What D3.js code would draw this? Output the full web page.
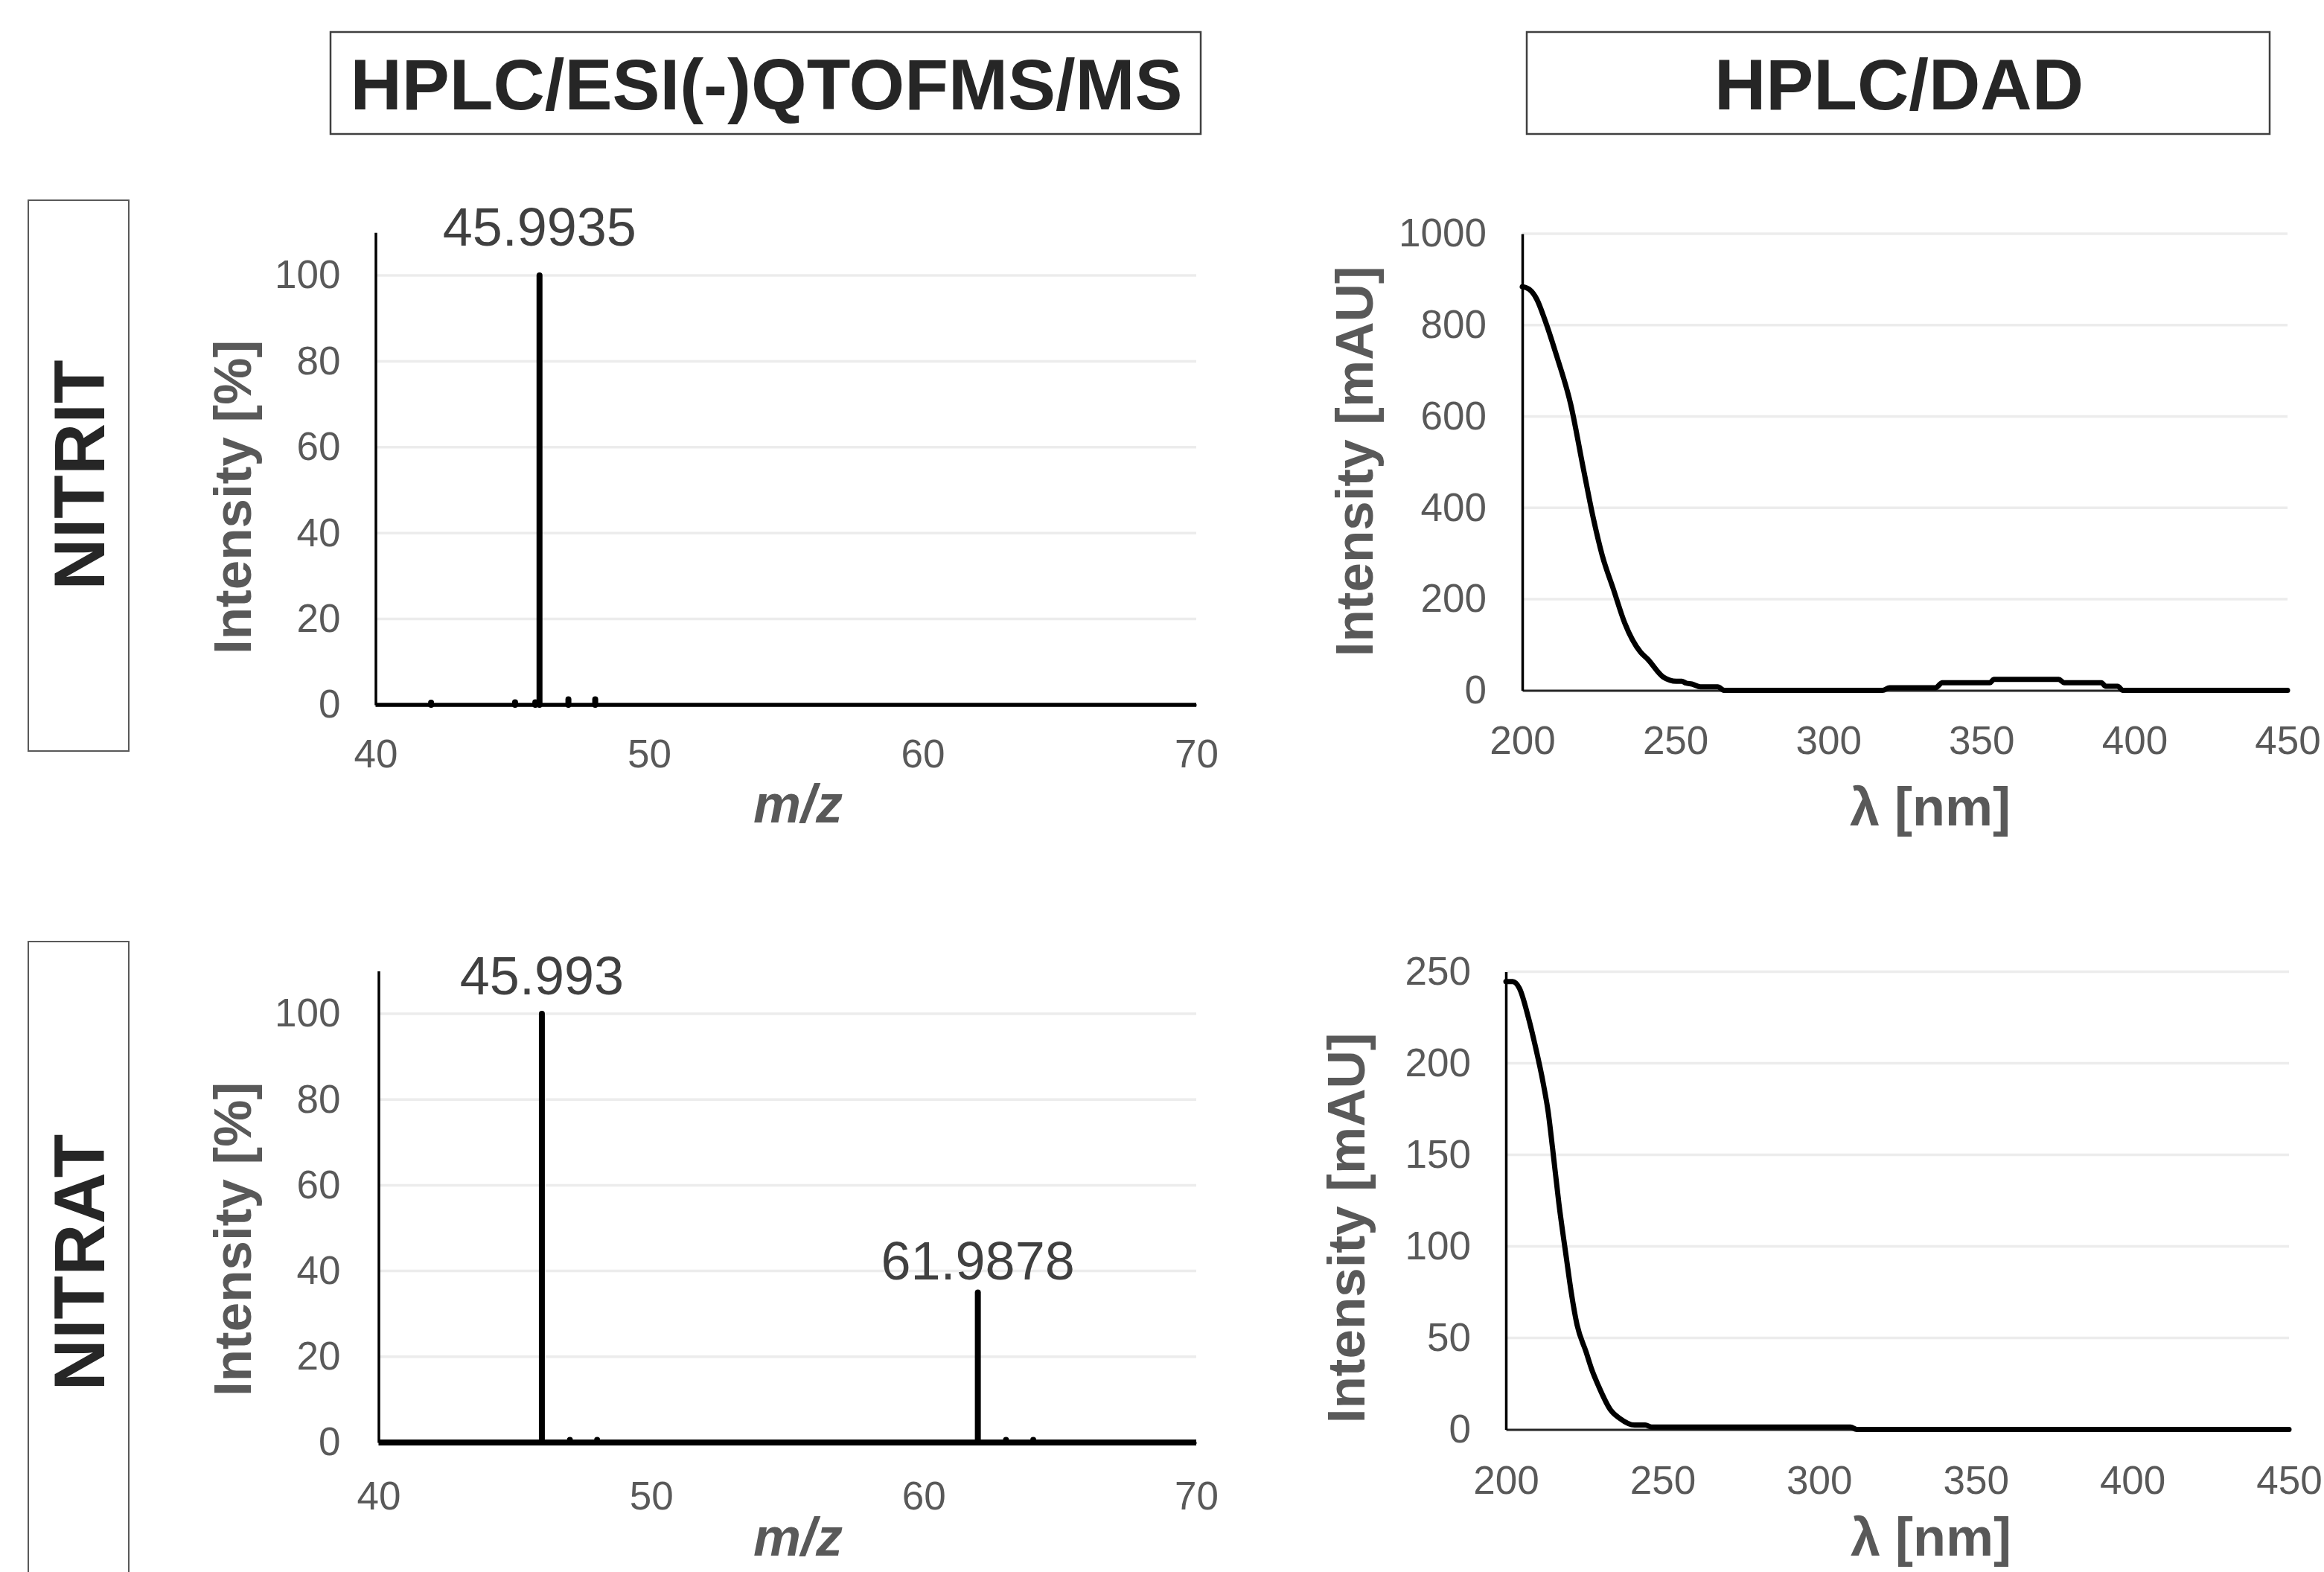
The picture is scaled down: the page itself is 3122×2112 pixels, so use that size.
<!DOCTYPE html>
<html>
<head>
<meta charset="utf-8">
<script src="https://cdn.jsdelivr.net/npm/d3@7"></script>
<style>
  html, body { margin: 0; padding: 0; background: #fff; }
</style>
</head>
<body>
<svg id="fig" width="3122" height="2112"></svg>
<script>
// ---- Column and row headings ----
const columnTitles = ["HPLC/ESI(-)QTOFMS/MS", "HPLC/DAD"];
const rowTitles = ["NITRIT", "NITRAT"];

// ---- Mass spectra (m/z, relative intensity %) ----
const mzTicks = [40, 50, 60, 70];
const percentTicks = [0, 20, 40, 60, 80, 100];

const nitritMz        = [42.03, 45.10, 45.84, 45.9935, 47.05, 48.03];
const nitritIntensity = [0.5,   0.6,   0.6,   100,     1.3,   1.3];

const nitratMz        = [45.993, 47.02, 48.02, 61.9878, 63.02, 64.02];
const nitratIntensity = [100,    0.6,   0.6,   35,      0.6,   0.6];

// ---- UV spectra from the diode array detector (nm, mAU) ----
const wavelengthTicks = [200, 250, 300, 350, 400, 450];
const nitritAbsTicks = [0, 200, 400, 600, 800, 1000];
const nitratAbsTicks = [0, 50, 100, 150, 200, 250];

const nitritWavelength = [200, 202.3, 204.7, 207.4, 211.2, 215.8, 220.0, 223.3, 226.1, 229.8,
                          233.5, 238.6, 240.9, 246.1, 250.3, 252.1, 253.5, 255.4, 258.2, 263.8,
                          266.1, 317.7, 320.0, 335.0, 337.2, 352.8, 354.0, 375.3, 377.0, 389.2,
                          390.6, 394.5, 396.2, 450];
const nitritAbsorbance = [884, 878, 857, 811, 733, 627, 484, 374, 296, 221,
                          147, 84, 69, 29, 20, 20, 16, 14, 8, 8,
                          0, 0, 6, 6, 17, 17, 24, 24, 17, 17,
                          9, 9, 0, 0];

const nitratWavelength = [200, 202.1, 204.3, 207.2, 209.1, 212.0, 213.5, 214.9, 216.9, 219.3,
                          220.8, 222.7, 225.6, 227.5, 229.5, 233.4, 236.3, 241.1, 244.5, 246.5,
                          310.0, 312.0, 450];
const nitratAbsorbance = [244.6, 244.6, 241, 224.8, 211.5, 188.3, 173.4, 153.5, 123.6, 93.7,
                          75.5, 57.2, 42.3, 32.3, 24, 10.7, 6.1, 2.4, 2.4, 1.3,
                          1.3, 0, 0];

// ---- drawing ----
const FONT = '"Liberation Sans", Arial, Helvetica, sans-serif';
const TICK_COLOR = "#595959";
const svg = d3.select("#fig");
svg.append("rect").attr("width", 3122).attr("height", 2112).attr("fill", "#fff");

// heading boxes across the top
const headBoxes = [
  { x: 444, y: 43, w: 1169, h: 137 },
  { x: 2051, y: 43, w: 998, h: 137 }
];
headBoxes.forEach((b, i) => {
  svg.append("rect").attr("x", b.x).attr("y", b.y).attr("width", b.w).attr("height", b.h)
    .attr("fill", "#fff").attr("stroke", "#404040").attr("stroke-width", 2.5);
  svg.append("text").attr("x", b.x + b.w / 2 + 1).attr("y", 147)
    .attr("text-anchor", "middle").attr("font-family", FONT).attr("font-weight", "bold")
    .attr("font-size", 96).attr("fill", "#262626").text(columnTitles[i]);
});

// row label boxes on the left
const rowBoxes = [
  { y: 269, h: 740, cy: 638 },
  { y: 1265, h: 900, cy: 1696 }
];
rowBoxes.forEach((b, i) => {
  svg.append("rect").attr("x", 38).attr("y", b.y).attr("width", 135).attr("height", b.h)
    .attr("fill", "#fff").attr("stroke", "#595959").attr("stroke-width", 2);
  svg.append("text").attr("transform", `translate(140,${b.cy}) rotate(-90)`)
    .attr("text-anchor", "middle").attr("font-family", FONT).attr("font-weight", "bold")
    .attr("font-size", 96).attr("fill", "#262626").text(rowTitles[i]);
});

function drawFrame(p) {
  const x = d3.scaleLinear().domain(p.xDomain).range([p.left, p.right]);
  const y = d3.scaleLinear().domain(p.yDomain).range([p.bottom, p.top]);
  const g = svg.append("g");
  const fmt = d3.format("d");

  // horizontal gridlines
  g.append("g").selectAll("line").data(p.yTicks.filter(v => v > 0)).join("line")
    .attr("x1", p.left).attr("x2", p.right)
    .attr("y1", d => y(d)).attr("y2", d => y(d))
    .attr("stroke", "#ececec").attr("stroke-width", 3.5);

  // x axis
  const gx = g.append("g").attr("transform", `translate(0,${y(0)})`)
    .call(d3.axisBottom(x).tickValues(p.xTicks).tickFormat(fmt)
      .tickSize(0).tickSizeOuter(0).tickPadding(p.xPad));
  gx.attr("font-family", FONT).attr("font-size", 53);
  gx.select(".domain").attr("stroke", "#262626").attr("stroke-width", 3);
  gx.selectAll("text").attr("fill", TICK_COLOR);

  // y axis
  const gy = g.append("g").attr("transform", `translate(${p.left},0)`)
    .call(d3.axisLeft(y).tickValues(p.yTicks).tickFormat(fmt)
      .tickSize(0).tickSizeOuter(0).tickPadding(p.yPad));
  gy.attr("font-family", FONT).attr("font-size", 53);
  gy.select(".domain").attr("stroke", "#000").attr("stroke-width", 3.5);
  gy.selectAll("text").attr("fill", TICK_COLOR);

  // axis titles
  g.append("text").attr("transform", `translate(${p.yTitlePos[0]},${p.yTitlePos[1]}) rotate(-90)`)
    .attr("text-anchor", "middle").attr("font-family", FONT).attr("font-weight", "bold")
    .attr("font-size", 71).attr("fill", TICK_COLOR).text(p.yTitle);
  g.append("text").attr("x", p.xTitlePos[0]).attr("y", p.xTitlePos[1])
    .attr("text-anchor", "middle").attr("font-family", FONT).attr("font-weight", "bold")
    .attr("font-style", p.xTitleItalic ? "italic" : "normal")
    .attr("font-size", 72).attr("fill", TICK_COLOR).text(p.xTitle);

  return { g, x, y };
}

function drawMassSpectrum(p, mz, intensity) {
  const { g, x, y } = drawFrame(p);
  // continuous baseline of the spectrum
  g.append("line").attr("x1", x(p.xDomain[0])).attr("x2", x(p.xDomain[1]))
    .attr("y1", y(0)).attr("y2", y(0))
    .attr("stroke", "#000").attr("stroke-width", p.baseWidth);
  const peaks = mz.map((m, i) => ({ mz: m, v: intensity[i] }));
  g.append("g").selectAll("line").data(peaks).join("line")
    .attr("x1", d => x(d.mz)).attr("x2", d => x(d.mz))
    .attr("y1", y(0)).attr("y2", d => y(d.v))
    .attr("stroke", "#000").attr("stroke-width", 8).attr("stroke-linecap", "round");
  // m/z labels for the major ions
  const labelled = peaks.filter(d => d.v >= 10);
  g.append("g").selectAll("text").data(labelled).join("text")
    .attr("x", d => x(d.mz))
    .attr("y", (d, i) => y(d.v) - p.labelGap[i])
    .attr("text-anchor", "middle").attr("font-family", FONT).attr("font-size", 72)
    .attr("fill", "#404040").text(d => String(d.mz));
}

function drawUvSpectrum(p, wl, absorb) {
  const { g, x, y } = drawFrame(p);
  const pts = wl.map((w, i) => [w, absorb[i]]);
  const line = d3.line().x(d => x(d[0])).y(d => y(d[1])).curve(d3.curveMonotoneX);
  g.append("path").attr("d", line(pts)).attr("fill", "none")
    .attr("stroke", "#000").attr("stroke-width", 7)
    .attr("stroke-linejoin", "round").attr("stroke-linecap", "round");
}

drawMassSpectrum({
  xDomain: [40, 70], yDomain: [0, 110], xTicks: mzTicks, yTicks: percentTicks,
  left: 504.5, right: 1607, bottom: 947, top: 312.3, xPad: 46, yPad: 47,
  yTitle: "Intensity [%]", yTitlePos: [337, 668],
  xTitle: "m/z", xTitleItalic: true, xTitlePos: [1072, 1105],
  baseWidth: 5.5, labelGap: [40]
}, nitritMz, nitritIntensity);

drawMassSpectrum({
  xDomain: [40, 70], yDomain: [0, 110], xTicks: mzTicks, yTicks: percentTicks,
  left: 508.5, right: 1607, bottom: 1938, top: 1304.4, xPad: 52, yPad: 51,
  yTitle: "Intensity [%]", yTitlePos: [337, 1665],
  xTitle: "m/z", xTitleItalic: true, xTitlePos: [1072, 2090],
  baseWidth: 8, labelGap: [26, 17]
}, nitratMz, nitratIntensity);

drawUvSpectrum({
  xDomain: [200, 450], yDomain: [0, 1000], xTicks: wavelengthTicks, yTicks: nitritAbsTicks,
  left: 2045, right: 3073, bottom: 927.6, top: 314, xPad: 48, yPad: 48,
  yTitle: "Intensity [mAU]", yTitlePos: [1844, 620],
  xTitle: "λ [nm]", xTitlePos: [2593, 1109]
}, nitritWavelength, nitritAbsorbance);

drawUvSpectrum({
  xDomain: [200, 450], yDomain: [0, 250], xTicks: wavelengthTicks, yTicks: nitratAbsTicks,
  left: 2023, right: 3075, bottom: 1920.5, top: 1305.5, xPad: 48.5, yPad: 47,
  yTitle: "Intensity [mAU]", yTitlePos: [1833, 1650],
  xTitle: "λ [nm]", xTitlePos: [2594, 2090]
}, nitratWavelength, nitratAbsorbance);
</script>
</body>
</html>
